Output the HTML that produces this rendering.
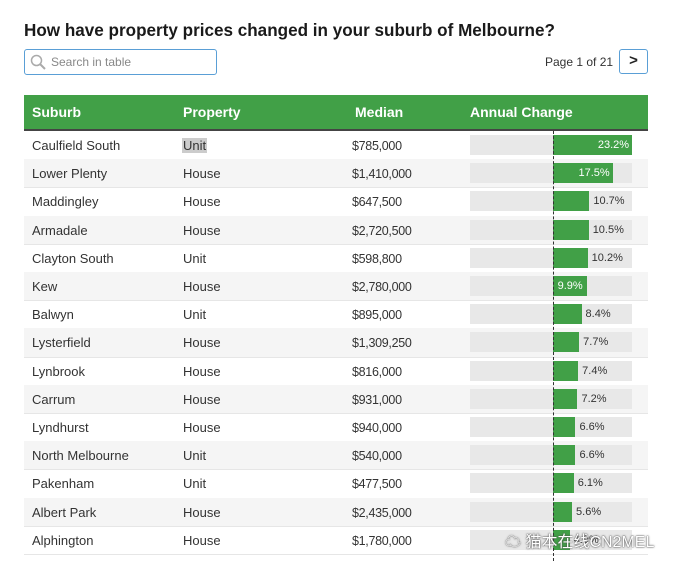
<!DOCTYPE html>
<html><head><meta charset="utf-8"><style>
body{margin:0;width:684px;height:567px;background:#fff;font-family:"Liberation Sans","DejaVu Sans",sans-serif;position:relative;overflow:hidden;color:#333}
.t{position:absolute;left:24px;top:21px;font-size:17.1px;font-weight:bold;color:#1a1a1a}
.search{position:absolute;left:24px;top:49px;width:191px;height:24px;border:1px solid #5a9fd6;border-radius:3px}
.search span{position:absolute;left:26px;top:5px;font-size:12px;color:#888}
.pg{position:absolute;left:545px;top:55px;font-size:12px;color:#333}
.nb{position:absolute;left:619px;top:49px;width:27px;height:23px;border:1px solid #5a9fd6;border-radius:3px;font-size:15px;text-align:center;line-height:22px;color:#222;font-weight:bold}
.hd{position:absolute;left:24px;top:95px;width:624px;height:34px;background:#41a047;border-bottom:2px solid #444}
.hd span{position:absolute;top:9px;color:#fff;font-weight:bold;font-size:14px}
.r{position:absolute;left:24px;width:624px;height:28.2px;font-size:13px;color:#333}
.r.g{background:#f5f5f5}
.r span{position:absolute;top:7px}
.bb{position:absolute;left:446px;top:4px;width:162px;height:20px;background:#e8e8e8}
.bar{position:absolute;left:529px;top:4px;height:20px;background:#41a047}
.lbl{position:absolute;top:8px !important;font-size:11px}
.zl{position:absolute;left:553px;top:131px;width:0;height:430px;border-left:1px dashed #333}
</style></head><body>
<div class="t">How have property prices changed in your suburb of Melbourne?</div>
<div class="search"><svg style="position:absolute;left:5px;top:4px" width="16" height="16"><circle cx="6.5" cy="6.5" r="5" fill="none" stroke="#aaa" stroke-width="1.5"/><line x1="10" y1="10" x2="15" y2="15" stroke="#aaa" stroke-width="2"/></svg><span>Search in table</span></div>
<div class="pg">Page 1 of 21</div>
<div class="nb">&gt;</div>
<div class="hd"><span style="left:8px">Suburb</span><span style="left:159px">Property</span><span style="left:331px">Median</span><span style="left:446px">Annual Change</span></div>
<div id="rows"></div>
<script>
var d=[["Caulfield South","Unit","$785,000",23.2],["Lower Plenty","House","$1,410,000",17.5],["Maddingley","House","$647,500",10.7],["Armadale","House","$2,720,500",10.5],["Clayton South","Unit","$598,800",10.2],["Kew","House","$2,780,000",9.9],["Balwyn","Unit","$895,000",8.4],["Lysterfield","House","$1,309,250",7.7],["Lynbrook","House","$816,000",7.4],["Carrum","House","$931,000",7.2],["Lyndhurst","House","$940,000",6.6],["North Melbourne","Unit","$540,000",6.6],["Pakenham","Unit","$477,500",6.1],["Albert Park","House","$2,435,000",5.6],["Alphington","House","$1,780,000",4.9]];
var h="";d.forEach(function(r,i){var w=r[3]*3.4;var inside=i<2||i==5;var top=131+i*28.2;
var prop=i==0?'<span style="left:158px;background:#ccc;padding:0 1px">Unit</span>':'<span style="left:159px">'+r[1]+'</span>';
var lab=inside?'<span class="lbl" style="left:'+(529+w-34)+'px;color:#fff;width:30px;text-align:right">'+r[3].toFixed(1)+'%</span>':'<span class="lbl" style="left:'+(529+w+4)+'px">'+r[3].toFixed(1)+'%</span>';
h+='<div class="r'+(i%2?' g':'')+'" style="top:'+top+'px;border-bottom:1px solid #e6e6e6"><span style="left:8px">'+r[0]+'</span>'+prop+'<span style="left:328px;top:8px;font-size:12.5px;letter-spacing:-0.3px">'+r[2]+'</span><div class="bb"></div><div class="bar" style="width:'+w+'px"></div>'+lab+'</div>';});
document.getElementById("rows").innerHTML=h;
</script>
<div class="zl"></div>
<div style="position:absolute;left:505px;top:528px;font-size:16px;color:#fff;text-shadow:0 0 2px #555,0 0 1px #333;font-family:'Liberation Sans','Noto Sans CJK SC',sans-serif">☁ 猫本在线CN2MEL</div>
</body></html>
